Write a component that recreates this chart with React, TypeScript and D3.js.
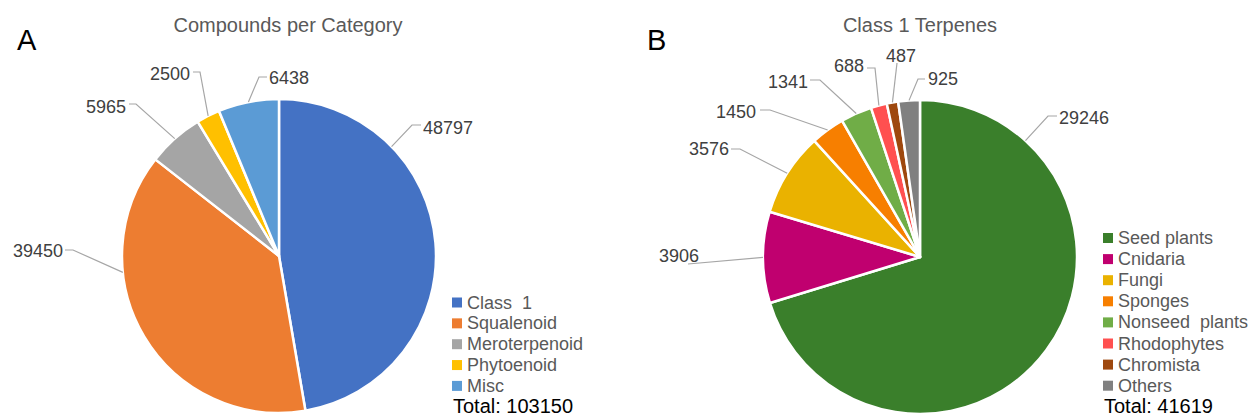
import React from 'react';
import * as d3 from 'd3';

// Panel A: compounds per category
const categoryNames = ['Class  1', 'Squalenoid', 'Meroterpenoid', 'Phytoenoid', 'Misc'];
const categoryValues = [48797, 39450, 5965, 2500, 6438];
const categoryColors = ['#4472C4', '#ED7D31', '#A5A5A5', '#FFC000', '#5B9BD5'];

// Panel B: class 1 terpenes by source organism
const sourceNames = ['Seed plants', 'Cnidaria', 'Fungi', 'Sponges', 'Nonseed  plants', 'Rhodophytes', 'Chromista', 'Others'];
const sourceValues = [29246, 3906, 3576, 1450, 1341, 688, 487, 925];
const sourceColors = ['#3A7F2B', '#C0006F', '#EAB200', '#F77F00', '#70AD47', '#FF5050', '#9E480E', '#808080'];

type LabelLayout = {
  angle?: number; // leader anchor angle (deg, clockwise from 12 o'clock); defaults to slice middle
  knee: [number, number];
  end: [number, number];
  anchor: 'start' | 'end' | 'middle';
  tx: number;
  ty: number;
};

// Label callout placement, relative to each pie's centre
const layoutA: LabelLayout[] = [
  { angle: 45.8, knee: [133, -131], end: [142, -131], anchor: 'start', tx: 2, ty: 9 },
  { angle: 264, knee: [-206, -6], end: [-214, -6], anchor: 'end', tx: -2, ty: 6.5 },
  { knee: [-143, -152], end: [-150, -152], anchor: 'end', tx: -3, ty: 8.5 },
  { knee: [-79, -184], end: [-86, -184], anchor: 'end', tx: -3, ty: 7.5 },
  { knee: [-20, -179], end: [-12, -179], anchor: 'start', tx: 2, ty: 6.5 },
];

const layoutB: LabelLayout[] = [
  { angle: 42.2, knee: [128, -141], end: [137, -141], anchor: 'start', tx: 2, ty: 7.5 },
  { knee: [-232, 7], end: [-232, 7], anchor: 'end', tx: 11, ty: -2.5 },
  { knee: [-180, -108], end: [-189, -108], anchor: 'end', tx: -2, ty: 5.5 },
  { knee: [-150, -147], end: [-160, -147], anchor: 'end', tx: -4, ty: 7.5 },
  { knee: [-100, -177], end: [-110, -177], anchor: 'end', tx: -2, ty: 7.5 },
  { knee: [-45, -189], end: [-53, -189], anchor: 'end', tx: -3, ty: 3.5 },
  { knee: [-23, -194], end: [-23, -194], anchor: 'middle', tx: 4, ty: -1.5 },
  { knee: [-2, -178], end: [5, -178], anchor: 'start', tx: 3, ty: 5.5 },
];

const FONT = '"Liberation Sans", Arial, Helvetica, sans-serif';
const RADIUS = 157;

type PanelProps = {
  letter: string;
  letterX: number;
  title: string;
  titleX: number;
  cx: number;
  cy: number;
  names: string[];
  values: number[];
  colors: string[];
  layout: LabelLayout[];
  legendX: number;
  legendY: number;
  legendStep: number;
  totalY: number;
};

function PiePanel(p: PanelProps) {
  const pie = d3.pie<number>().sort(null).value((d) => d);
  const arcs = pie(p.values);
  const arcGen = d3.arc<d3.PieArcDatum<number>>().innerRadius(0).outerRadius(RADIUS);
  const total = d3.sum(p.values);

  return (
    <g>
      <text x={p.letterX} y={50} fontSize={29} fill="#000">{p.letter}</text>
      <text x={p.titleX} y={32} fontSize={20} fill="#595959" textAnchor="middle">{p.title}</text>
      <g transform={`translate(${p.cx},${p.cy})`}>
        {arcs.map((a, i) => (
          <path key={i} d={arcGen(a) || ''} fill={p.colors[i]} stroke="#fff" strokeWidth={2.5} strokeLinejoin="round" />
        ))}
        {arcs.map((a, i) => {
          const L = p.layout[i];
          const ang = L.angle !== undefined ? (L.angle * Math.PI) / 180 : (a.startAngle + a.endAngle) / 2;
          const ax = RADIUS * Math.sin(ang);
          const ay = -RADIUS * Math.cos(ang);
          const pts = [[ax, ay], L.knee, L.end] as [number, number][];
          return (
            <g key={'l' + i}>
              <path d={d3.line()(pts) || ''} fill="none" stroke="#A6A6A6" strokeWidth={1.2} />
              <text x={L.end[0] + L.tx} y={L.end[1] + L.ty} fontSize={18} fill="#404040" textAnchor={L.anchor}>
                {p.values[i]}
              </text>
            </g>
          );
        })}
      </g>
      <g>
        {p.names.map((n, i) => {
          const y = p.legendY + i * p.legendStep;
          return (
            <g key={'k' + i}>
              <rect x={p.legendX} y={y - 11} width={10} height={10} fill={p.colors[i]} />
              <text x={p.legendX + 15} y={y} fontSize={18} fill="#595959" style={{ whiteSpace: 'pre' }}>{n}</text>
            </g>
          );
        })}
        <text x={p.legendX + 1} y={p.totalY} fontSize={20} fill="#000">{`Total: ${total}`}</text>
      </g>
    </g>
  );
}

export default function App() {
  return (
    <svg
      width={1250}
      height={417}
      viewBox="0 0 1250 417"
      style={{ position: 'absolute', left: 0, top: 0, background: '#fff', fontFamily: FONT }}
    >
      <PiePanel
        letter="A"
        letterX={17}
        title="Compounds per Category"
        titleX={288}
        cx={279}
        cy={256}
        names={categoryNames}
        values={categoryValues}
        colors={categoryColors}
        layout={layoutA}
        legendX={452}
        legendY={308.5}
        legendStep={20.85}
        totalY={413}
      />
      <PiePanel
        letter="B"
        letterX={647}
        title="Class 1 Terpenes"
        titleX={920}
        cx={920}
        cy={257}
        names={sourceNames}
        values={sourceValues}
        colors={sourceColors}
        layout={layoutB}
        legendX={1103}
        legendY={244}
        legendStep={21.1}
        totalY={413}
      />
    </svg>
  );
}
